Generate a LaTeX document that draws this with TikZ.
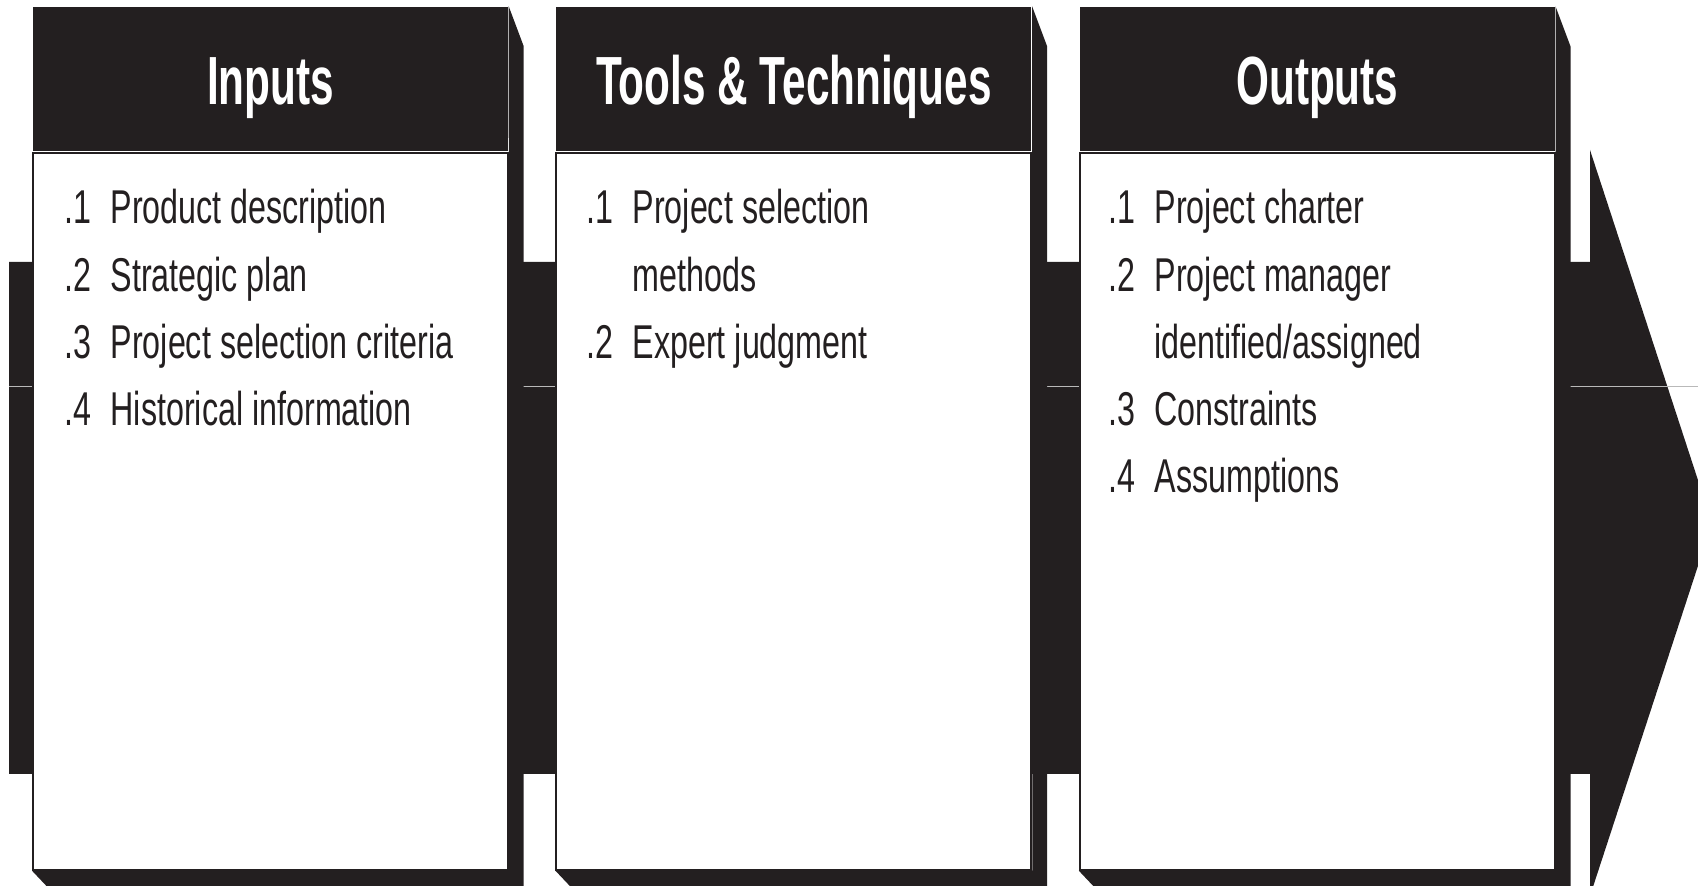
\documentclass[tikz,border=0pt]{standalone}
\usepackage{fontspec}
\setmainfont{Liberation Sans}
\newfontfamily\headfont[FakeStretch=0.62]{Liberation Sans}
\newfontfamily\itemfont[FakeStretch=0.68]{Liberation Sans}
\usepackage{tikz}
\usetikzlibrary{positioning}
\definecolor{inkblack}{RGB}{35,31,32}
\tikzset{
	head/.style={
		rectangle,
		fill=inkblack,
		text=white,
		minimum width=47.5mm,
		minimum height=14.4mm,
		inner sep=0pt,
		text height=6.2mm,
		text depth=1mm,
		font=\headfont\bfseries\fontsize{19.4}{20}\selectfont
	},
	body/.style={
		rectangle,
		fill=white,
		draw=inkblack,
		line width=0.2mm,
		minimum width=47.5mm,
		minimum height=71.7mm,
		inner sep=0pt
	},
	items/.style={
		anchor=base west,
		inner sep=0pt,
		text=inkblack,
		font=\itemfont\fontsize{13.5}{19.1}\selectfont
	},
	shade/.style={fill=inkblack},
	seam/.style={draw=gray!55,line width=0.1mm}
}
\newcommand\itm[2]{\makebox[4.6mm][l]{#1}#2}

\begin{document}
\begin{tikzpicture}[x=0.1mm,y=-0.1mm]
		\useasboundingbox (0,0) rectangle (1698,886);
		\clip (0,0) rectangle (1698,886);

		% the big process arrow behind the three boxes
		\fill[inkblack] (9,262) -- (1590,262) -- (1590,150) -- (1712,523)
			-- (1590,896) -- (1590,774) -- (9,774) -- cycle;
		\draw[seam] (9,387) -- (1698,387);

		\node[head] (inhead) at (270.5,79) {Inputs};
		\node[head,right=4.7mm of inhead] (tthead) {Tools \& Techniques};
		\node[head,right=4.7mm of tthead] (outhead) {Outputs};
		\node[body,below=0pt of inhead] (inbody) {};
		\node[body,below=0pt of tthead] (ttbody) {};
		\node[body,below=0pt of outhead] (outbody) {};

		% drop shadows
		\fill[shade] (inhead.north east) -- ++(15,40) |- ([xshift=1.7mm,yshift=-1.8mm]inbody.south west)
			-- (inbody.south west) -- (inbody.south east) -- cycle;
		\fill[shade] (tthead.north east) -- ++(15,40) |- ([xshift=1.7mm,yshift=-1.8mm]ttbody.south west)
			-- (ttbody.south west) -- (ttbody.south east) -- cycle;
		\fill[shade] (outhead.north east) -- ++(15,40) |- ([xshift=1.7mm,yshift=-1.8mm]outbody.south west)
			-- (outbody.south west) -- (outbody.south east) -- cycle;

		\node[items] (inlist) at (64,224) {\begin{tabular}[t]{@{}l@{}}
			\itm{.1}{Product description}\\
			\itm{.2}{Strategic plan}\\
			\itm{.3}{Project selection criteria}\\
			\itm{.4}{Historical information}
		\end{tabular}};
		\node[items] (ttlist) at (586,224) {\begin{tabular}[t]{@{}l@{}}
			\itm{.1}{Project selection}\\
			\itm{}{methods}\\
			\itm{.2}{Expert judgment}
		\end{tabular}};
		\node[items] (outlist) at (1108,224) {\begin{tabular}[t]{@{}l@{}}
			\itm{.1}{Project charter}\\
			\itm{.2}{Project manager}\\
			\itm{}{identified/assigned}\\
			\itm{.3}{Constraints}\\
			\itm{.4}{Assumptions}
		\end{tabular}};
	\end{tikzpicture}
\end{document}
